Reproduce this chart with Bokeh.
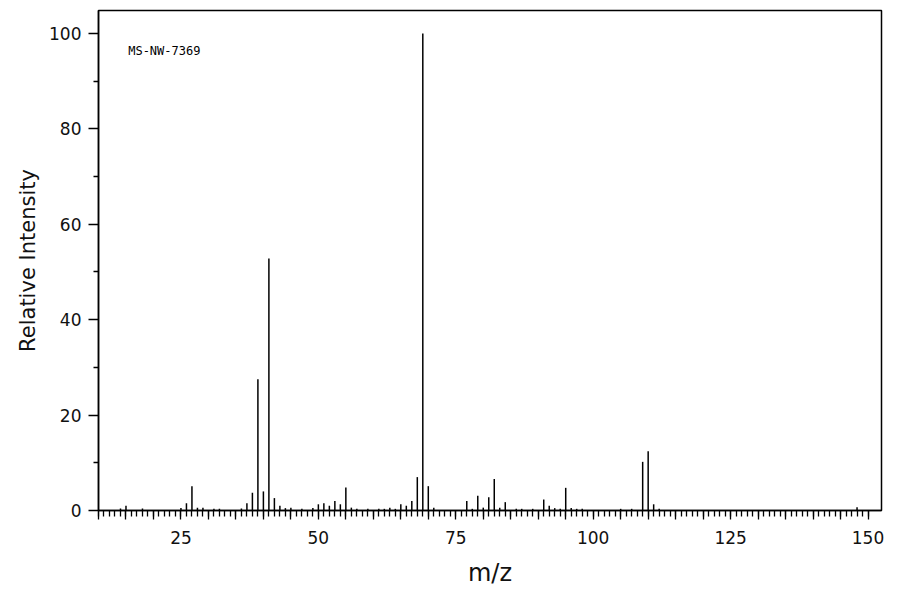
from bokeh.plotting import figure
from bokeh.models import Range1d, FixedTicker, Label
from bokeh.embed import file_html
from bokeh.resources import INLINE

# Mass spectrum peaks (m/z, relative intensity %)
mz = [14, 15, 18, 25, 26, 27, 28, 29, 31, 32, 36, 37, 38, 39, 40, 41, 42, 43, 44, 45,
      47, 49, 50, 51, 52, 53, 54, 55, 56, 57, 59, 61, 62, 63, 64, 65, 66, 67, 68, 69,
      70, 71, 77, 78, 79, 80, 81, 82, 83, 84, 86, 87, 89, 91, 92, 93, 94, 95, 96, 97,
      98, 105, 107, 109, 110, 111, 112, 148]
intensity = [0.4, 1.0, 0.4, 0.5, 1.5, 5.1, 0.6, 0.6, 0.35, 0.35, 0.4, 1.5, 3.7, 27.5, 4.0, 52.8, 2.6, 1.0, 0.5, 0.6,
             0.35, 0.5, 1.3, 1.5, 1.0, 2.0, 1.3, 4.8, 0.6, 0.35, 0.35, 0.35, 0.35, 0.6, 0.35, 1.3, 1.0, 2.0, 7.0, 100.0,
             5.1, 0.6, 2.0, 0.35, 3.1, 0.6, 2.8, 6.6, 0.6, 1.75, 0.35, 0.35, 0.35, 2.3, 1.0, 0.5, 0.35, 4.75, 0.55, 0.35,
             0.35, 0.35, 0.35, 10.2, 12.4, 1.3, 0.35, 0.7]

x_major = list(range(10, 151, 5))
x_minor = list(range(10, 151, 1))
x_labels = {t: (str(t) if t % 25 == 0 else "") for t in x_major}
y_major = [0, 20, 40, 60, 80, 100]
y_minor = [10, 30, 50, 70, 90]
spectrum_id = "MS-NW-7369"

p = figure(width=890, height=596, output_backend="svg", toolbar_location=None,
           x_range=Range1d(10, 152.45), y_range=Range1d(0, 104.8),
           min_border_left=98, min_border_right=9, min_border_top=10, min_border_bottom=86)

p.background_fill_color = "white"
p.border_fill_color = "white"
p.outline_line_color = "black"
p.outline_line_width = 1.5
p.outline_line_alpha = 1.0
p.xgrid.visible = False
p.ygrid.visible = False

p.segment(x0=mz, y0=[0] * len(mz), x1=mz, y1=intensity, line_color="black", line_width=1.5)

xa = p.xaxis[0]
xa.ticker = FixedTicker(ticks=x_major, minor_ticks=x_minor)
xa.major_label_overrides = x_labels
xa.axis_label = "m/z"
ya = p.yaxis[0]
ya.ticker = FixedTicker(ticks=y_major, minor_ticks=y_minor)
ya.axis_label = "Relative Intensity"

for ax in (xa, ya):
    ax.axis_line_color = "black"
    ax.axis_line_width = 1.5
    ax.major_tick_line_color = "black"
    ax.minor_tick_line_color = "black"
    ax.major_tick_line_width = 1.3
    ax.minor_tick_line_width = 1.3
    ax.major_tick_in = 0
    ax.minor_tick_in = 0
    ax.major_label_text_font = "DejaVu Sans"
    ax.major_label_text_font_size = "17px"
    ax.major_label_text_color = "#111111"
    ax.axis_label_text_font = "DejaVu Sans"
    ax.axis_label_text_font_style = "normal"
    ax.axis_label_text_color = "#111111"

xa.major_tick_out = 9
xa.minor_tick_out = 6
xa.major_label_standoff = 11
xa.axis_label_text_font_size = "24px"
xa.axis_label_standoff = 12

ya.major_tick_out = 10
ya.minor_tick_out = 5
ya.major_label_standoff = 7
ya.axis_label_text_font_size = "21px"
ya.axis_label_standoff = 6

p.add_layout(Label(x=15.4, y=96.4, text=spectrum_id, text_font="DejaVu Sans Mono",
                   text_font_size="12px", text_color="black", text_baseline="middle",
                   text_align="left"))

open("out.html", "w").write(file_html(p, INLINE))
